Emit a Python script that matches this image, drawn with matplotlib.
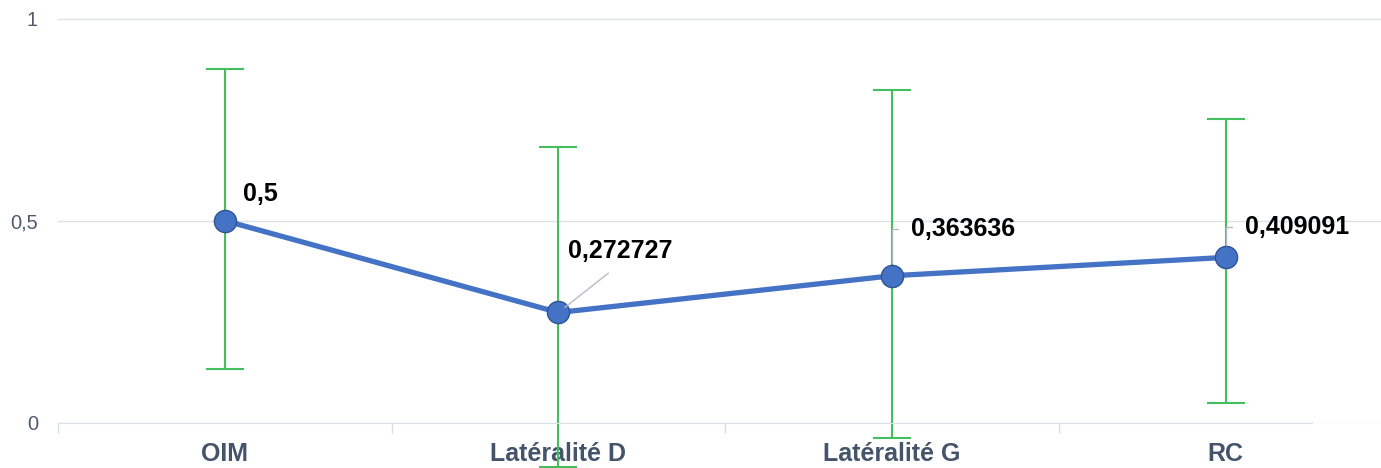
import numpy as np
import matplotlib
matplotlib.use("Agg")
import matplotlib.pyplot as plt

categories = ['OIM', 'Latéralité D', 'Latéralité G', 'RC']
values = [0.5, 0.272727, 0.363636, 0.409091]
labels = ['0,5', '0,272727', '0,363636', '0,409091']
err_low = [0.366, 0.382, 0.402, 0.360]
err_high = [0.375, 0.410, 0.460, 0.342]

# label offsets in pixels from the point
label_offsets = [(18, 27), (10, 61), (19, 47), (19, 30)]

plt.rcParams['font.family'] = ['Liberation Sans', 'DejaVu Sans']

fig = plt.figure(figsize=(13.81, 4.68), dpi=100)
ax = fig.add_axes([58 / 1381, (468 - 422.7) / 468, (1381 - 58) / 1381, 422.7 / 468])

x = np.arange(len(categories))
ax.errorbar(x, values, yerr=[err_low, err_high], fmt='none', ecolor='#43BF5E',
            elinewidth=1.5, capsize=14, capthick=1.5, clip_on=False, zorder=2)
ax.plot(x, values, color='#4472C4', lw=3.8, marker='o', markersize=16,
        markerfacecolor='#4472C4', markeredgecolor='#2F5597', markeredgewidth=1,
        zorder=3, clip_on=False)

for i, (xi, v, lab) in enumerate(zip(x, values, labels)):
    dx, dy = label_offsets[i]
    kw = dict(xytext=(dx, dy), textcoords='offset pixels', ha='left', va='center',
              fontsize=18, fontweight='bold', color='black')
    if i == 1:
        kw['arrowprops'] = dict(arrowstyle='-', color='#B4BCC8', lw=1,
                                relpos=(0.5, 0), shrinkA=8, shrinkB=6)
    elif i > 1:
        kw['arrowprops'] = dict(arrowstyle='-', color='#B4BCC8', lw=1,
                                relpos=(0, 0.5), shrinkA=7, shrinkB=9,
                                connectionstyle='angle,angleA=0,angleB=90,rad=0')
    ax.annotate(lab, (xi, v), **kw)

ax.set_xlim(-0.5, 3.466)
ax.set_ylim(0, 1.046)
ax.set_yticks([0, 0.5, 1])
ax.set_yticklabels(['0', '0,5', '1'])
ax.set_xticks(x)
ax.set_xticklabels(categories)
ax.set_xticks(np.arange(-0.5, 3.0, 1.0), minor=True)

ax.tick_params(axis='y', length=0, pad=14.4, labelsize=14.5, labelcolor='#505A6C')
ax.tick_params(axis='x', which='major', length=0, pad=14, labelsize=18, labelcolor='#44546A')
ax.tick_params(axis='x', which='minor', length=7, width=1, color='#D9DEE5')
for t in ax.get_xticklabels():
    t.set_fontweight('bold')

ax.grid(axis='y', color='#DCE1E8', lw=1)
ax.set_axisbelow(True)
for s in ['top', 'right', 'left']:
    ax.spines[s].set_visible(False)
ax.spines['bottom'].set_color('#DCE1E8')
ax.spines['bottom'].set_bounds(-0.5, 3.26)

fig.savefig('out.png', dpi=100)
